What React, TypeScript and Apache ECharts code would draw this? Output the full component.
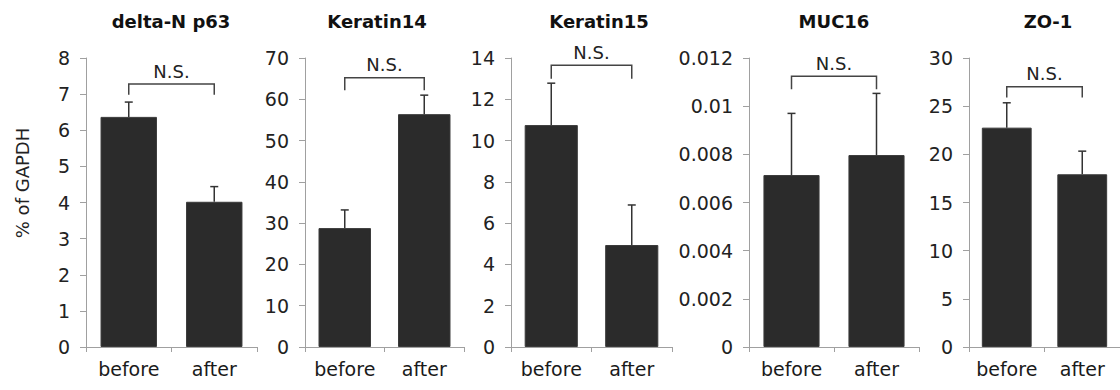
import React, { useEffect, useRef } from "react";
import * as echarts from "echarts";

const categories = ["before", "after"];
const panelTitles = ["delta-N p63", "Keratin14", "Keratin15", "MUC16", "ZO-1"];
const deltaNp63 = [6.37, 4.02];
const deltaNp63Err = [0.41, 0.42];
const keratin14 = [28.8, 56.4];
const keratin14Err = [4.4, 4.6];
const keratin15 = [10.75, 4.94];
const keratin15Err = [2.03, 1.94];
const muc16 = [0.00714, 0.00797];
const muc16Err = [0.00256, 0.00256];
const zo1 = [22.77, 17.93];
const zo1Err = [2.58, 2.4];
const yMax = [8, 70, 14, 0.012, 30];
const yInterval = [1, 10, 2, 0.002, 5];
const bracketLevel = [7.28, 65.2, 13.65, 0.01124, 27.02];
const bracketEnd = [6.98, 62.2, 13.0, 0.0107, 25.9];
const sigLabel = "N.S.";
const yAxisTitle = "% of GAPDH";

const means = [deltaNp63, keratin14, keratin15, muc16, zo1];
const errs = [deltaNp63Err, keratin14Err, keratin15Err, muc16Err, zo1Err];

// layout (pixels)
const gridLeft = [86, 305, 511, 749, 969];
const gridWidth = [171, 159, 161, 170, 160];
const titleCenter = [171, 377, 599, 834, 1048];
const gridTop = 58;
const gridHeight = 289;

const FONT = "DejaVu Sans";

export default function App() {
  const ref = useRef<HTMLDivElement>(null);
  useEffect(() => {
    document.body.style.margin = "0";
    const chart = echarts.init(ref.current!, null, { renderer: "svg" });
    const grid: any[] = [];
    const xAxis: any[] = [];
    const yAxis: any[] = [];
    const series: any[] = [];
    const graphic: any[] = [];
    for (let i = 0; i < 5; i++) {
      grid.push({ left: gridLeft[i], top: gridTop, width: gridWidth[i], height: gridHeight });
      xAxis.push({
        type: "category",
        gridIndex: i,
        data: categories,
        axisLine: { show: true, lineStyle: { color: "#a0a0a0", width: 1 } },
        axisTick: { show: true, length: 5, alignWithLabel: false, lineStyle: { color: "#a0a0a0" } },
        axisLabel: { color: "#1a1a1a", fontFamily: FONT, fontSize: 19, margin: 12, interval: 0, hideOverlap: false },
      });
      yAxis.push({
        type: "value",
        gridIndex: i,
        min: 0,
        max: yMax[i],
        interval: yInterval[i],
        splitLine: { show: false },
        axisLine: { show: true, lineStyle: { color: "#a0a0a0", width: 1 } },
        axisTick: { show: true, length: 6, inside: false, lineStyle: { color: "#a0a0a0" } },
        axisLabel: { color: "#222", fontFamily: FONT, fontSize: 19, margin: 16 },
      });
      series.push({
        type: "bar",
        xAxisIndex: i,
        yAxisIndex: i,
        data: means[i],
        barWidth: "66%",
        itemStyle: { color: "#2b2b2b", borderColor: "#3a3a3a", borderWidth: 1 },
        z: 2,
      });
      series.push({
        type: "custom",
        xAxisIndex: i,
        yAxisIndex: i,
        z: 3,
        data: means[i].map((m, k) => [k, m, m + errs[i][k]]),
        renderItem: (params: any, api: any) => {
          const base = api.coord([api.value(0), api.value(1)]);
          const top = api.coord([api.value(0), api.value(2)]);
          const st = { stroke: "#333", lineWidth: 1.5 };
          return {
            type: "group",
            children: [
              { type: "line", shape: { x1: base[0], y1: base[1], x2: top[0], y2: top[1] }, style: st },
              { type: "line", shape: { x1: top[0] - 4, y1: top[1], x2: top[0] + 4, y2: top[1] }, style: st },
            ],
          };
        },
      });
      series.push({
        type: "custom",
        xAxisIndex: i,
        yAxisIndex: i,
        z: 3,
        data: [[0, 1, bracketLevel[i], bracketEnd[i]]],
        renderItem: (params: any, api: any) => {
          const a = api.coord([api.value(0), api.value(2)]);
          const b = api.coord([api.value(1), api.value(2)]);
          const ae = api.coord([api.value(0), api.value(3)]);
          const be = api.coord([api.value(1), api.value(3)]);
          return {
            type: "group",
            children: [
              {
                type: "polyline",
                shape: { points: [ae, a, b, be] },
                style: { stroke: "#444", lineWidth: 1.5, fill: null },
              },
              {
                type: "text",
                x: (a[0] + b[0]) / 2,
                y: a[1] - 13,
                style: {
                  text: sigLabel,
                  textAlign: "center",
                  textVerticalAlign: "middle",
                  fill: "#222",
                  font: `18px "${FONT}"`,
                },
              },
            ],
          };
        },
      });
      graphic.push({
        type: "text",
        x: titleCenter[i],
        y: 21,
        style: {
          text: panelTitles[i],
          textAlign: "center",
          textVerticalAlign: "middle",
          fill: "#111",
          font: `bold 18px "${FONT}"`,
        },
      });
    }
    graphic.push({
      type: "text",
      x: 22,
      y: 183,
      rotation: Math.PI / 2,
      style: {
        text: yAxisTitle,
        textAlign: "center",
        textVerticalAlign: "middle",
        fill: "#222",
        font: `18px "${FONT}"`,
      },
    });
    chart.setOption({
      animation: false,
      backgroundColor: "#fff",
      grid,
      xAxis,
      yAxis,
      series,
      graphic,
    });
    return () => chart.dispose();
  }, []);
  return <div ref={ref} style={{ width: 1120, height: 390 }} />;
}
